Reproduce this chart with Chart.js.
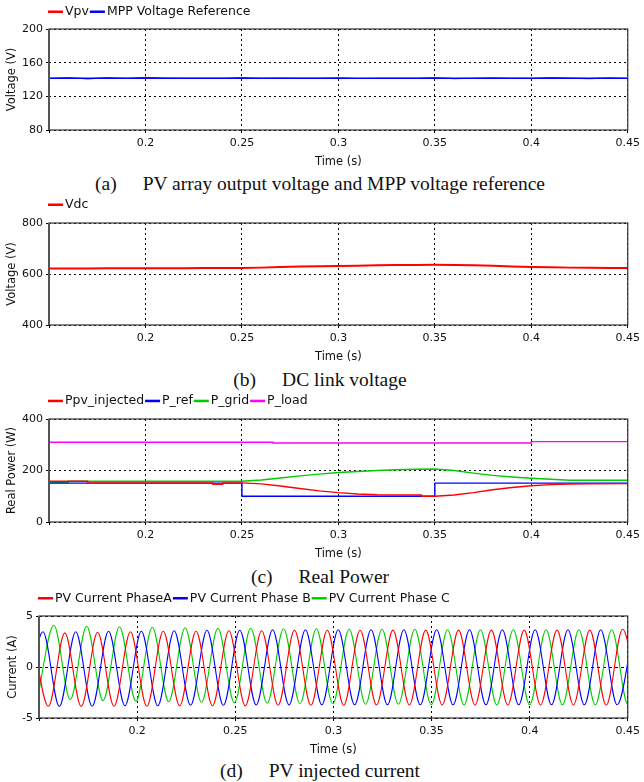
<!DOCTYPE html>
<html>
<head>
<meta charset="utf-8">
<title>PV inverter simulation results</title>
<script src="https://cdn.jsdelivr.net/npm/chart.js@4.4.1/dist/chart.umd.min.js"></script>
<style>
  html, body { margin: 0; padding: 0; background: #fff; }
  #page { position: relative; width: 644px; height: 782px; overflow: hidden; }
  canvas { position: absolute; left: 0; }
  .cap { position: absolute; left: 0; width: 640px; text-align: center; font: 19.5px 'Liberation Serif', 'Times New Roman', serif; color: #111; line-height: 20px; white-space: nowrap; }
  .cap span { margin-left: 26px; }
</style>
</head>
<body>
<div id="page">
  <canvas id="chartA" width="644" height="170" style="top:0px"></canvas>
  <div class="cap" style="top:174px">(a)<span>PV array output voltage and MPP voltage reference</span></div>
  <canvas id="chartB" width="644" height="170" style="top:195px"></canvas>
  <div class="cap" style="top:370px">(b)<span>DC link voltage</span></div>
  <canvas id="chartC" width="644" height="172" style="top:390px"></canvas>
  <div class="cap" style="top:567px">(c)<span>Real Power</span></div>
  <canvas id="chartD" width="644" height="173" style="top:585px"></canvas>
  <div class="cap" style="top:761px">(d)<span>PV injected current</span></div>
</div>
<script>
// ---- data ----
const timeTicks = [0.15, 0.2, 0.25, 0.3, 0.35, 0.4, 0.45];

// (a) PV array voltage, sampled every 10 ms
const tCoarse = [0.15, 0.16, 0.17, 0.18, 0.19, 0.20, 0.21, 0.22, 0.23, 0.24, 0.25, 0.26, 0.27, 0.28, 0.29, 0.30,
                 0.31, 0.32, 0.33, 0.34, 0.35, 0.36, 0.37, 0.38, 0.39, 0.40, 0.41, 0.42, 0.43, 0.44, 0.45];
const vpv = [141.5, 142.4, 140.8, 142.3, 141.5, 142.6, 141.8, 141.5, 141.5, 141.3, 142.4, 141.5, 141.6, 141.5, 141.5, 142.1,
             141.2, 141.5, 141.5, 141.5, 142.4, 141.0, 141.5, 141.9, 141.5, 141.5, 142.3, 141.6, 141.1, 142.0, 141.5];
const mppT = [0.15, 0.45];
const mppRef = [141.5, 141.5];

// (b) DC link voltage
const vdc = [621.5, 622, 622, 622.5, 623, 623, 623, 623, 623.5, 623.5, 624, 625, 627, 629, 630, 631,
             632.5, 634, 635, 635.5, 636, 635, 634, 632, 629.5, 627.5, 626, 625, 624.5, 624, 624];

// (c) real power
const pPvT = [0.15, 0.17, 0.17, 0.235, 0.235, 0.24, 0.24, 0.25, 0.26, 0.27, 0.28, 0.29, 0.30, 0.31, 0.32, 0.343, 0.343,
              0.35, 0.36, 0.37, 0.38, 0.39, 0.40, 0.41, 0.42, 0.43, 0.45];
const pPv = [158, 158, 152, 152, 146, 146, 152, 152, 148, 140, 130, 121, 114, 109, 106, 105, 100,
             100, 105, 114, 125, 134, 141, 145, 147, 148, 149];
const pRefT = [0.15, 0.25, 0.25, 0.35, 0.35, 0.45];
const pRef = [151, 151, 100, 100, 151, 151];
const pGridT = [0.15, 0.16, 0.16, 0.25, 0.26, 0.27, 0.28, 0.29, 0.30, 0.31, 0.32, 0.33, 0.34, 0.35, 0.36, 0.37,
                0.38, 0.39, 0.40, 0.41, 0.42, 0.45];
const pGrid = [153, 153, 158, 158, 163, 171, 179, 186, 192, 196, 200, 203, 205, 206, 200, 190,
               181, 175, 170, 166, 162, 162];
const pLoadT = [0.15, 0.266, 0.266, 0.40, 0.40, 0.45];
const pLoad = [310, 310, 307, 307, 312, 312];

// (d) phase currents: successive peak / trough values (one every half cycle)
const halfCycle = 0.00836;
const startA = 0.14643, startB = 0.14364, startC = 0.14921;
const iaExtrema = [3.4, -3.85, 3.35, -3.87, 3.4, -3.85, 3.45, -3.85, 3.5, -3.8, 3.5, -3.8, 3.55, -3.8, 3.55, -3.75,
                   3.6, -3.75, 3.6, -3.75, 3.6, -3.72, 3.62, -3.72, 3.62, -3.72, 3.62, -3.72, 3.62, -3.72, 3.62, -3.72,
                   3.62, -3.72, 3.62, -3.75, 3.7, -3.75];
const ibExtrema = [-3.8, 3.45, -3.87, 3.45, -3.85, 3.5, -3.8, 3.5, -3.8, 3.55, -3.75, 3.6, -3.75, 3.6, -3.72, 3.65,
                   -3.72, 3.65, -3.7, 3.65, -3.7, 3.65, -3.7, 3.65, -3.7, 3.65, -3.7, 3.65, -3.7, 3.65, -3.7, 3.65,
                   -3.7, 3.65, -3.7, 3.65, -3.7, 3.65];
const icExtrema = [-3.1, 4.1, -3.2, 4.0, -3.3, 3.95, -3.35, 3.9, -3.4, 3.85, -3.45, 3.8, -3.5, 3.8, -3.55, 3.75,
                   -3.6, 3.75, -3.6, 3.7, -3.65, 3.7, -3.65, 3.7, -3.7, 3.65, -3.7, 3.65, -3.7, 3.65, -3.7, 3.65,
                   -3.7, 3.65, -3.7, 3.65, -3.7, 3.65];

// ---- helpers ----
Chart.defaults.font.family = "'DejaVu Sans', Verdana, sans-serif";
Chart.defaults.font.size = 11;
Chart.defaults.color = '#111';

const pts = (ts, vs) => ts.map((t, i) => ({ x: t, y: vs[i] }));
const halfTimes = (start, n) => Array.from({ length: n }, (_, k) => +(start + k * halfCycle).toFixed(5));

// legend drawn as "line + label" pairs aligned with the plot's left edge
const lineLegend = {
  id: 'lineLegend',
  afterDraw(chart, args, opts) {
    const { ctx, chartArea } = chart;
    ctx.save();
    ctx.font = "12.5px 'DejaVu Sans', Verdana, sans-serif";
    ctx.textBaseline = 'middle';
    let x = chartArea.left - 1;
    const y = chartArea.top - opts.offset;
    chart.data.datasets.forEach(ds => {
      ctx.fillStyle = ds.borderColor;
      ctx.fillRect(x, y - 1, 15, 2.5);
      x += 17;
      ctx.fillStyle = '#111';
      ctx.fillText(ds.label, x, y + 0.5);
      x += ctx.measureText(ds.label).width + 1;
    });
    ctx.restore();
  }
};

const plotBox = {
  id: 'plotBox',
  afterDatasetsDraw(chart) {
    const { ctx, chartArea: a } = chart;
    ctx.save();
    ctx.strokeStyle = '#333';
    ctx.lineWidth = 1.2;
    ctx.strokeRect(a.left, a.top, a.right - a.left, a.bottom - a.top);
    // left axis is drawn a little heavier and greyer in the original
    ctx.strokeStyle = '#555';
    ctx.lineWidth = 2;
    ctx.beginPath();
    ctx.moveTo(a.left, a.top);
    ctx.lineTo(a.left, a.bottom);
    ctx.stroke();
    ctx.restore();
  }
};

function makePanel(id, datasets, y, yTitle, axisWidth, padTop, legendOffset, titlePad) {
  return new Chart(document.getElementById(id), {
    type: 'line',
    data: { datasets },
    plugins: [lineLegend, plotBox],
    options: {
      responsive: false,
      animation: false,
      events: [],
      layout: { padding: { top: padTop, right: 11, left: 0, bottom: 0 } },
      elements: { point: { radius: 0 }, line: { tension: 0 } },
      plugins: {
        legend: { display: false },
        tooltip: { enabled: false },
        lineLegend: { offset: legendOffset }
      },
      scales: {
        x: {
          type: 'linear',
          min: 0.15, max: 0.45,
          afterFit: s => { s.height = 40; },
          afterBuildTicks: s => { s.ticks = timeTicks.map(v => ({ value: v })); },
          ticks: {
            autoSkip: false, maxRotation: 0, padding: 4,
            callback: v => Math.abs(v - 0.15) < 1e-9 ? '' : String(+v.toFixed(2))
          },
          grid: { color: '#000', lineWidth: 1, tickLength: 3, tickColor: '#000' },
          border: { display: false, dash: [2, 3] },
          title: { display: true, text: 'Time (s)', font: { size: 11.5 }, padding: { top: 0, bottom: 1 } }
        },
        y: {
          min: y.min, max: y.max,
          afterFit: s => { s.width = axisWidth; },
          ticks: { stepSize: y.step, padding: 3 },
          grid: { color: '#000', lineWidth: 1, tickLength: 3, tickColor: '#000' },
          border: { display: false, dash: y.dash || [2, 3] },
          title: { display: true, text: yTitle, font: { size: 11.5 }, padding: { top: titlePad, bottom: 0 } }
        }
      }
    }
  });
}

// (a)
makePanel('chartA', [
  { label: 'Vpv', data: pts(tCoarse, vpv), borderColor: '#ff0000', borderWidth: 1.2, order: 2 },
  { label: 'MPP Voltage Reference', data: pts(mppT, mppRef), borderColor: '#0000ff', borderWidth: 1.6, order: 1 }
], { min: 80, max: 200, step: 40 }, 'Voltage (V)', 49, 29, 17.5, 5);

// (b)
makePanel('chartB', [
  { label: 'Vdc', data: pts(tCoarse, vdc), borderColor: '#ff0000', borderWidth: 2 }
], { min: 400, max: 800, step: 200 }, 'Voltage (V)', 49, 28, 18.5, 5);

// (c)
makePanel('chartC', [
  { label: 'Ppv_injected', data: pts(pPvT, pPv), borderColor: '#ff0000', borderWidth: 1.4 },
  { label: 'P_ref', data: pts(pRefT, pRef), borderColor: '#0000ff', borderWidth: 1.4 },
  { label: 'P_grid', data: pts(pGridT, pGrid), borderColor: '#00cc00', borderWidth: 1.4 },
  { label: 'P_load', data: pts(pLoadT, pLoad), borderColor: '#ff00ff', borderWidth: 1.4 }
], { min: 0, max: 400, step: 200 }, 'Real Power (W)', 49, 29, 18.3, 5);

// (d)
const sineOpts = { borderWidth: 1.1, cubicInterpolationMode: 'monotone' };
makePanel('chartD', [
  Object.assign({ label: 'PV Current PhaseA', borderColor: '#ff0000',
    data: pts(halfTimes(startA, iaExtrema.length), iaExtrema) }, sineOpts),
  Object.assign({ label: 'PV Current Phase B', borderColor: '#0000ff',
    data: pts(halfTimes(startB, ibExtrema.length), ibExtrema) }, sineOpts),
  Object.assign({ label: 'PV Current Phase C', borderColor: '#00cc00',
    data: pts(halfTimes(startC, icExtrema.length), icExtrema) }, sineOpts)
], { min: -5, max: 5, step: 5, dash: [3, 3] }, 'Current (A)', 39, 31, 18, 6.5);
</script>
</body>
</html>
